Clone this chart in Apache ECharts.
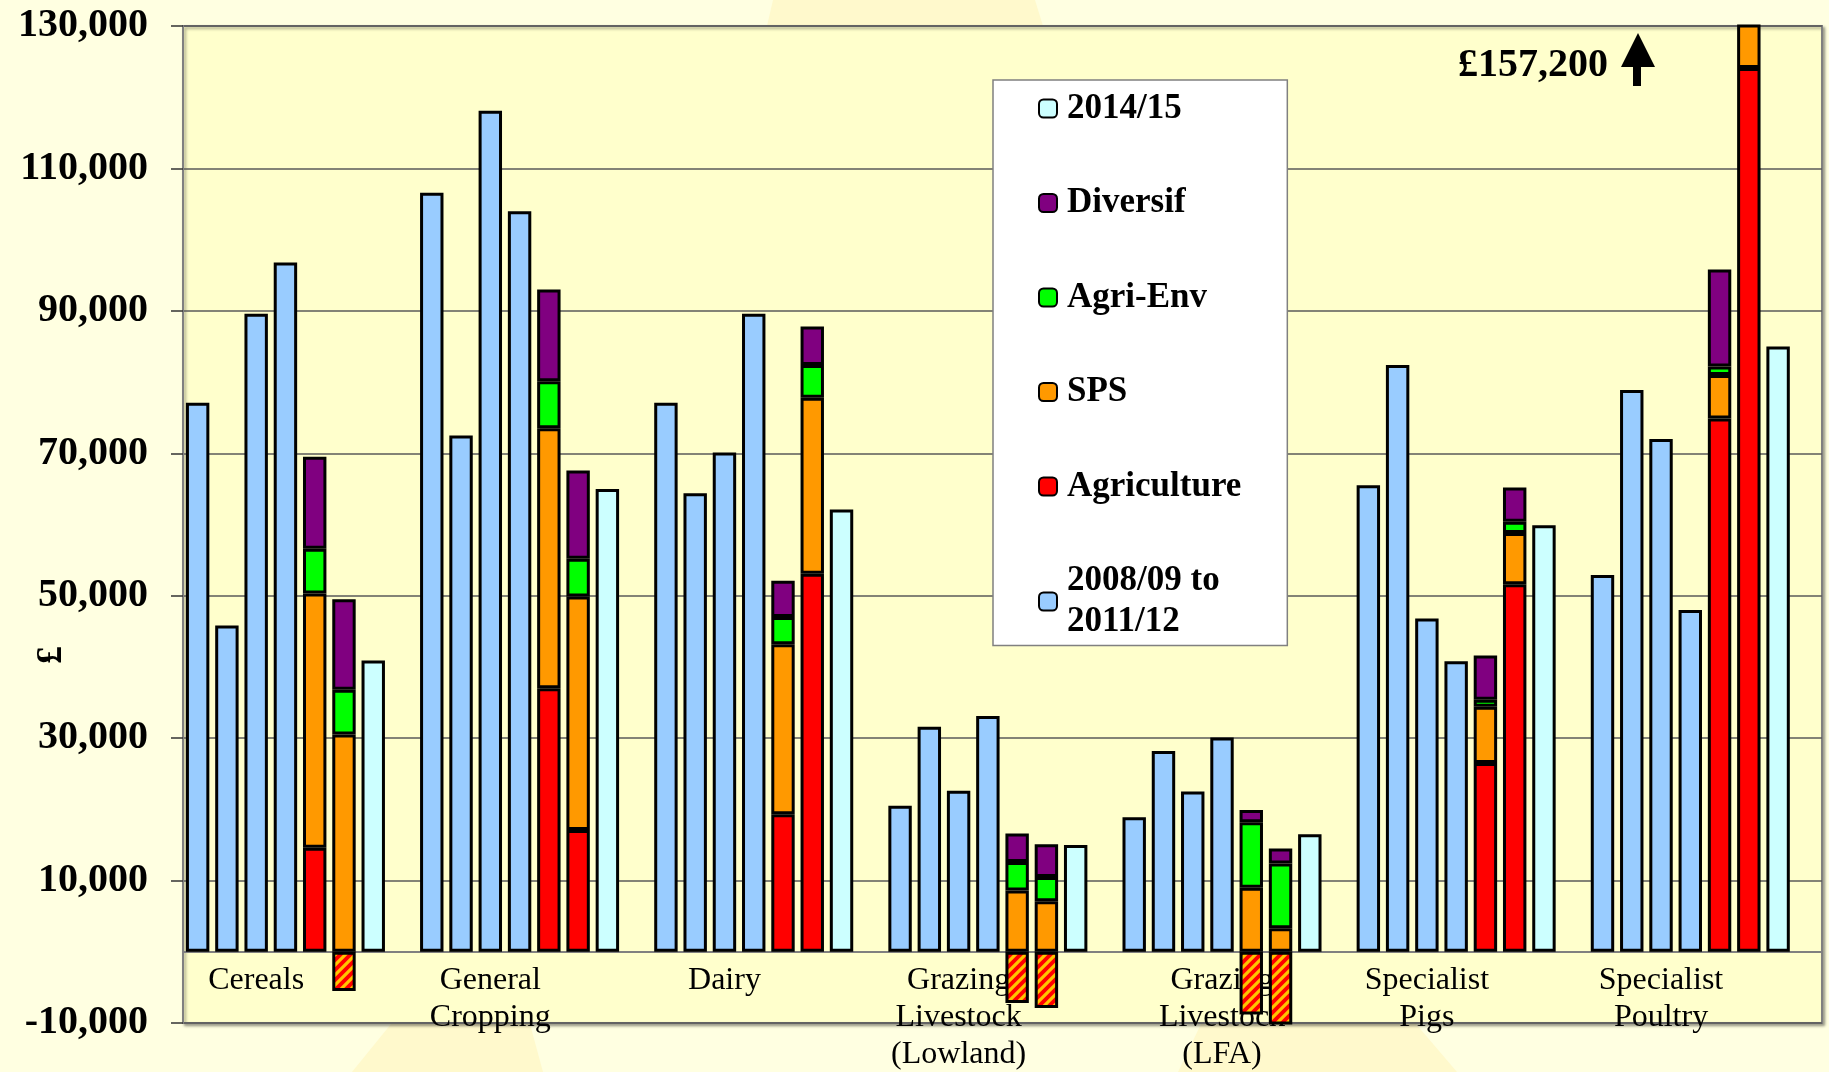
<!DOCTYPE html>
<html>
<head>
<meta charset="utf-8">
<script src="https://cdn.jsdelivr.net/npm/echarts@6/dist/echarts.min.js"></script>
<style>
  html, body { margin: 0; padding: 0; background: #FFFFE1; }
  #chart { width: 1829px; height: 1072px; }
</style>
</head>
<body>
<div id="chart"></div>
<script>
// farm type groups, each drawn as 7 bars + 1 empty slot
const groups = ['Cereals', 'General\nCropping', 'Dairy', 'Grazing\nLivestock\n(Lowland)',
    'Grazing\nLivestock\n(LFA)', 'Specialist\nPigs', 'Specialist\nPoultry'];
// which slot of the group carries the label
const labelSlot = [2, 2, 2, 2, 3, 2, 2];

// 2008/09 to 2011/12, four years per group
const avg0811 = [
    [77100, 45800, 89600, 96800],
    [106600, 72500, 118100, 104000],
    [77100, 64400, 70100, 89600],
    [20500, 31600, 22600, 33100],
    [18900, 28200, 22500, 30100],
    [65500, 82400, 46800, 40800],
    [52900, 78900, 72000, 48000]
];

// two stacked bars per group
const agriculture = [[14600, -5500], [37000, 17100], [19300, 53100], [-7200, -7900],
    [-8800, -10200], [26500, 51600], [74900, 124100]];
const sps = [[35700, 30500], [36500, 32800], [23900, 24700], [8600, 7100],
    [9000, 3300], [7900, 7200], [6100, 9000]];
const agriEnv = [[6300, 6300], [6600, 5300], [3800, 4600], [4000, 3400],
    [9200, 9100], [1000, 1600], [1200, 1000]];
const diversif = [[12900, 12700], [12900, 12400], [5100, 5400], [4000, 4600],
    [1700, 2100], [6200, 4800], [13600, 23100]];

const y2014 = [40900, 65000, 62100, 15000, 16500, 59900, 85000];

const yTicks = { min: -10000, max: 130000, interval: 20000 };

const serif = '"Liberation Serif", "Times New Roman", serif';

const gridTop = 26, gridBottom = 49, chartH = 1072;
// move the category axis up to the zero line
const plotH = chartH - gridTop - gridBottom;
const zeroOffset = -plotH * (0 - yTicks.min) / (yTicks.max - yTicks.min);

function makeHatch() {
    let c = document.createElement('canvas');
    c.width = 10; c.height = 10;
    let ctx = c.getContext('2d');
    ctx.fillStyle = '#FF0000';
    ctx.fillRect(0, 0, 10, 10);
    ctx.strokeStyle = '#FFC400';
    ctx.lineWidth = 3.2;
    ctx.beginPath();
    ctx.moveTo(-5, 5); ctx.lineTo(5, -5);
    ctx.moveTo(0, 10); ctx.lineTo(10, 0);
    ctx.moveTo(5, 15); ctx.lineTo(15, 5);
    ctx.stroke();
    return c;
}
const hatch = { image: makeHatch(), repeat: 'repeat' };

// spread the arrays over 8 slots per group
let cats = [], labels = [];
let sBase = [], sAgri = [], sSps = [], sEnv = [], sDiv = [], s1415 = [];
groups.forEach(function (g, gi) {
    for (let k = 0; k < 8; k++) {
        cats.push(gi + '-' + k);
        labels.push(k === labelSlot[gi] ? g : '');
        sBase.push(k < 4 ? avg0811[gi][k] : '-');
        let j = k - 4;
        let st = (j === 0 || j === 1);
        if (st) {
            let a = agriculture[gi][j];
            sAgri.push(a < 0 ? { value: a, itemStyle: { color: hatch } } : a);
            sSps.push(sps[gi][j]);
            sEnv.push(agriEnv[gi][j]);
            sDiv.push(diversif[gi][j]);
        } else {
            sAgri.push('-'); sSps.push('-'); sEnv.push('-'); sDiv.push('-');
        }
        s1415.push(k === 6 ? y2014[gi] : '-');
    }
});

function barSeries(name, color, data) {
    return {
        name: name,
        type: 'bar',
        stack: 'all',
        barWidth: '80%',
        data: data,
        itemStyle: { color: color, borderColor: '#000', borderWidth: 3 }
    };
}

let chart = echarts.init(document.getElementById('chart'));
chart.setOption({
    backgroundColor: '#FFFFE1',
    animation: false,
    grid: {
        left: 183, right: 7, top: gridTop, bottom: gridBottom,
        outerBoundsMode: 'none', containLabel: false,
        show: true, backgroundColor: '#FFFFCC',
        borderColor: '#808080', borderWidth: 2,
        shadowColor: 'rgba(0,0,0,0.35)', shadowBlur: 3, shadowOffsetX: 2, shadowOffsetY: 2
    },
    legend: {
        orient: 'vertical', left: 993, top: 80,
        data: ['2014/15', 'Diversif', 'Agri-Env', 'SPS', 'Agriculture', '2008/09 to 2011/12'],
        itemWidth: 18, itemHeight: 18, itemGap: 53.5,
        padding: [8, 46, 3, 45],
        backgroundColor: '#FFFFFF', borderColor: '#808080', borderWidth: 1.5,
        selectedMode: false,
        itemStyle: { borderWidth: 2 },
        textStyle: {
            fontFamily: serif, fontSize: 35, fontWeight: 'bold', color: '#000', lineHeight: 41,
            padding: [0, 0, 0, 5]
        },
        formatter: function (n) {
            return n === '2008/09 to 2011/12' ? '2008/09 to\n2011/12' : n;
        }
    },
    xAxis: {
        type: 'category',
        data: cats,
        position: 'bottom',
        offset: zeroOffset,
        axisLine: { onZero: false, lineStyle: { color: '#808080', width: 2 } },
        axisTick: { interval: 0, length: 9, lineStyle: { color: '#555', width: 1.5 } },
        axisLabel: {
            interval: 0, margin: 10,
            fontFamily: serif, fontSize: 32, lineHeight: 37, color: '#000',
            formatter: function (v, i) { return labels[i]; }
        },
        splitLine: { show: false }
    },
    yAxis: {
        type: 'value',
        min: yTicks.min, max: yTicks.max, interval: yTicks.interval,
        axisLine: { show: true, lineStyle: { color: '#808080', width: 2 } },
        axisTick: { show: true, length: 12, lineStyle: { color: '#333', width: 1.5 } },
        axisLabel: {
            margin: 35, fontFamily: serif, fontSize: 40, fontWeight: 'bold', color: '#000',
            formatter: function (v) { return v.toLocaleString('en-US'); }
        },
        splitLine: { lineStyle: { color: '#5a5a5a', width: 1.5 } }
    },
    series: [
        barSeries('2008/09 to 2011/12', '#99CCFF', sBase),
        barSeries('Agriculture', '#FF0000', sAgri),
        barSeries('SPS', '#FF9900', sSps),
        barSeries('Agri-Env', '#00FF00', sEnv),
        barSeries('Diversif', '#800080', sDiv),
        barSeries('2014/15', '#CCFFFF', s1415)
    ],
    graphic: [
        // faint background shapes
        { type: 'polygon', z: -100, silent: true, shape: { points: [[767, 26], [773, 0], [1035, 0], [1043, 26]] }, style: { fill: '#FFF9CC' } },
        { type: 'polygon', z: -100, silent: true, shape: { points: [[391, 1024], [530, 1024], [543, 1072], [352, 1072]] }, style: { fill: '#FFF9CC' } },
        { type: 'polygon', z: -100, silent: true, shape: { points: [[1201, 1024], [1416, 1024], [1457, 1072], [1178, 1072]] }, style: { fill: '#FFF9CC' } },
        {
            type: 'text', x: 52, y: 655, rotation: Math.PI / 2,
            style: { text: '£', font: 'bold 36px ' + serif, fill: '#000', align: 'center', verticalAlign: 'middle' }
        },
        {
            type: 'text', x: 1458, y: 66,
            style: { text: '£157,200', font: 'bold 40px ' + serif, fill: '#000', align: 'left', verticalAlign: 'middle' }
        },
        {
            type: 'polygon',
            shape: { points: [[1638, 33], [1655, 67], [1641, 67], [1641, 86], [1633, 86], [1633, 67], [1621, 67]] },
            style: { fill: '#000' }
        }
    ]
});
</script>
</body>
</html>
